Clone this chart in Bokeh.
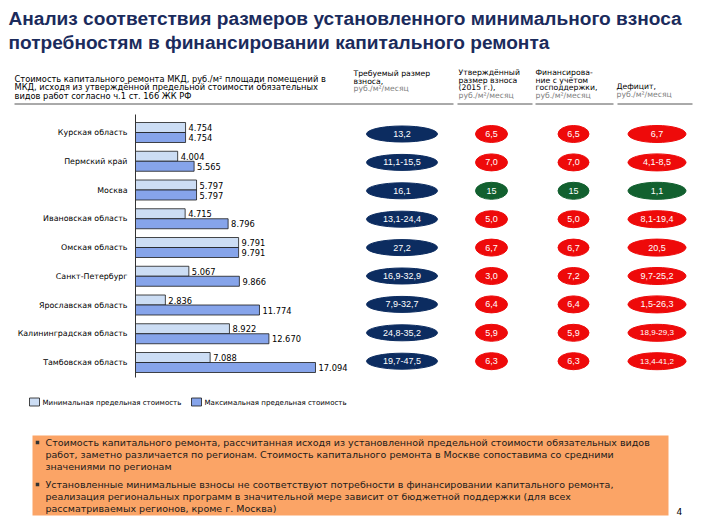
from bokeh.plotting import figure
from bokeh.models import Range1d
from bokeh.core.properties import value
from bokeh.embed import file_html
from bokeh.resources import INLINE

# ---------------- data ----------------
regions = ["Курская область", "Пермский край", "Москва", "Ивановская область",
           "Омская область", "Санкт-Петербург", "Ярославская область",
           "Калининградская область", "Тамбовская область"]
min_cost = [4.754, 4.004, 5.797, 4.715, 9.791, 5.067, 2.836, 8.922, 7.088]
max_cost = [4.754, 5.565, 5.797, 8.796, 9.791, 9.866, 11.774, 12.670, 17.094]
required = ["13,2", "11,1-15,5", "16,1", "13,1-24,4", "27,2", "16,9-32,9",
            "7,9-32,7", "24,8-35,2", "19,7-47,5"]
approved = ["6,5", "7,0", "15", "5,0", "6,7", "3,0", "6,4", "5,9", "6,3"]
with_support = ["6,5", "7,0", "15", "5,0", "6,7", "7,2", "6,4", "5,9", "6,3"]
deficit = ["6,7", "4,1-8,5", "1,1", "8,1-19,4", "20,5", "9,7-25,2",
           "1,5-26,3", "18,9-29,3", "13,4-41,2"]
covered = [False, False, True, False, False, False, False, False, False]

title_lines = ["Анализ соответствия размеров установленного минимального взноса",
               "потребностям в финансировании капитального ремонта"]
left_header = ["Стоимость капитального ремонта  МКД, руб./м² площади помещений в",
               "МКД, исходя из утверждённой предельной стоимости обязательных",
               "видов работ согласно ч.1 ст. 166 ЖК РФ"]
col_headers = [
    (["Требуемый размер", "взноса,"], 1),
    (["Утверждённый", "размер взноса", "(2015 г.),"], 0),
    (["Финансирова-", "ние с учётом", "господдержки,"], 0),
    (["Дефицит,"], 2),
]
unit_text = "руб./м²/месяц"
legend_labels = ["Минимальная предельная стоимость", "Максимальная предельная стоимость"]
bullets = [
    ["Стоимость капитального ремонта, рассчитанная исходя из установленной предельной стоимости обязательных видов",
     "работ, заметно различается по регионам.  Стоимость капитального ремонта в Москве сопоставима со средними",
     "значениями по регионам"],
    ["Установленные минимальные взносы не соответствуют потребности в финансировании капитального ремонта,",
     "реализация региональных программ в значительной мере зависит от бюджетной поддержки (для всех",
     "рассматриваемых регионов, кроме г. Москва)"],
]
page_no = "4"

# ---------------- layout ----------------
W, H = 705, 527
FONT = "Liberation Sans"
SMALL = "DejaVu Sans"
p = figure(width=W, height=H, output_backend="svg", toolbar_location=None,
           x_range=Range1d(0, W), y_range=Range1d(H, 0),
           x_axis_type=None, y_axis_type=None, min_border=0,
           background_fill_color="white", border_fill_color="white")
p.outline_line_color = None
p.xgrid.visible = False
p.ygrid.visible = False

# bar value range: value 0 at x=135, 17.094 at ~315
AX0, K = 135.0, 10.53
p.extra_x_ranges = {"val": Range1d(-AX0 / K, (W - AX0) / K)}


def txt(xs, ys, texts, size, color="black", align="left", baseline="middle",
        style="normal", font=SMALL, xr="default"):
    p.text(x=xs, y=ys, text=texts, text_font=value(font),
           text_font_size=f"{size}px", text_color=color, text_align=align,
           text_baseline=baseline, text_font_style=style, x_range_name=xr)


# title
txt([8, 8], [18, 42], title_lines, 19.1, color="#1B2B5C", style="bold", font=FONT)

# left header
txt([14] * 3, [78, 86.5, 95], left_header, 8.3)

# column headers
col_x = [353, 458, 535, 616]
for (lines, kind), cx in zip(col_headers, col_x):
    if kind == 0:
        ys = [72, 79.5, 87]
        uy = 94.5
    elif kind == 1:
        ys = [73, 80.5]
        uy = 88
    else:
        ys = [86]
        uy = 93.5
    txt([cx] * len(lines), ys, lines, 7.7)
    txt([cx], [uy], [unit_text], 7.7, color="#808080")

# header underline
p.segment(x0=[14, 457, 535, 617], x1=[453, 532, 613, 692],
          y0=[103.5] * 4, y1=[103.5] * 4, line_color="#555555", line_width=1)

# bars
n = len(regions)
row_c = [132 + 28.75 * i for i in range(n)]
y_min = [c - 5 for c in row_c]
y_max = [c + 5 for c in row_c]
p.hbar(y=y_min, left=0, right=min_cost, height=10, x_range_name="val",
       fill_color="#CCDDF4", line_color="#1a1a1a", line_width=0.8)
p.hbar(y=y_max, left=0, right=max_cost, height=10, x_range_name="val",
       fill_color="#86A4EA", line_color="#1a1a1a", line_width=0.8)
p.segment(x0=[0], x1=[0], y0=[114], y1=[377], x_range_name="val",
          line_color="#333333", line_width=1)

# bar value labels (offset computed in value units)
off = 3 / K
txt([v + off for v in min_cost], y_min, [f"{v:.3f}" for v in min_cost], 8.3, xr="val")
txt([v + off for v in max_cost], y_max, [f"{v:.3f}" for v in max_cost], 8.3, xr="val")

# category labels
txt([127] * n, row_c, regions, 7.9, align="right")

# legend
p.rect(x=[34, 196], y=[401.5, 401.5], width=10, height=8,
       fill_color=["#CCDDF4", "#86A4EA"], line_color="#1a1a1a", line_width=0.8)
txt([42, 204], [402, 402], legend_labels, 7.05)

# ellipse columns
ell_y = [133.5 + 28.4 * i for i in range(n)]
navy, red, green = "#0C2C60", "#EE0A0A", "#12602F"
p.ellipse(x=[401.5] * n, y=ell_y, width=71, height=16, fill_color=navy, line_color=navy)
txt([401.5] * n, ell_y, required, 9, color="white", align="center", font=FONT)

status = [green if c else red for c in covered]
p.ellipse(x=[491] * n, y=ell_y, width=32, height=17, fill_color=status, line_color=status)
txt([491] * n, ell_y, approved, 9, color="white", align="center", font=FONT)
p.ellipse(x=[573] * n, y=ell_y, width=31, height=17, fill_color=status, line_color=status)
txt([573] * n, ell_y, with_support, 9, color="white", align="center", font=FONT)
p.ellipse(x=[656.5] * n, y=ell_y, width=58, height=17, fill_color=status, line_color=status)
d_sizes = ["9px" if len(s) < 9 else "8px" for s in deficit]
p.text(x=[656.5] * n, y=ell_y, text=deficit, text_font=value(FONT),
       text_font_size=d_sizes, text_color="white", text_align="center",
       text_baseline="middle")

# bottom box
p.quad(left=[32], right=[668], top=[435], bottom=[515],
       fill_color="#FBA466", line_color=None)
line_ys = [[442, 454, 466], [484, 496, 508]]
for blines, ys in zip(bullets, line_ys):
    p.scatter(x=[37], y=[ys[0]], marker="square", size=3.5,
              fill_color="#333333", line_color=None)
    txt([45] * len(blines), ys, blines, 9.5, color="#1a1a1a")
txt([676], [511], [page_no], 9)

open("out.html", "w").write(file_html(p, INLINE))
